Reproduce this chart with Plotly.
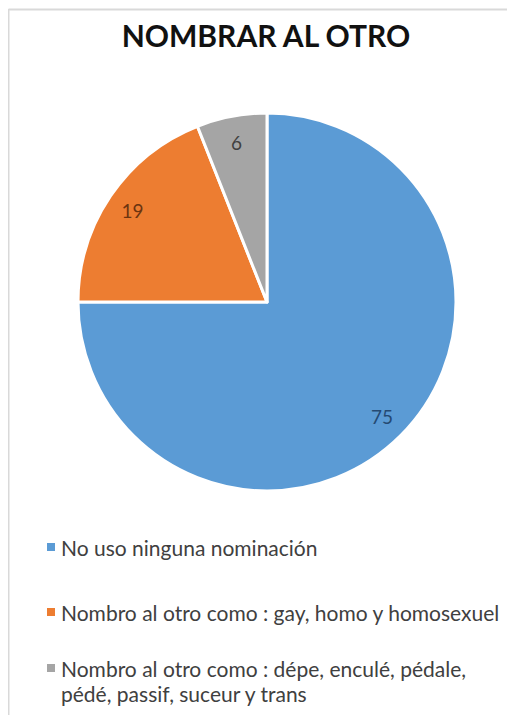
import plotly.graph_objects as go

title = "NOMBRAR AL OTRO"
categories = [
    "No uso ninguna nominación",
    "Nombro al otro como : gay, homo y homosexuel",
    "Nombro al otro como : dépe, enculé, pédale,<br>pédé, passif, suceur y trans",
]
values = [75, 19, 6]
colors = ["#5B9BD5", "#ED7D31", "#A5A5A5"]
label_colors = ["#254A73", "#6B3410", "#404040"]

# page body has an 8px default margin: work in page coordinates and shift
OFF = 8
W, H = 515 - OFF, 715 - OFF
FONT = "Lato"


def px(x):
    return (x - OFF) / W


def py(y):
    return 1 - (y - OFF) / H


pie_domain = dict(x=[px(78), px(456)], y=[py(492), py(112)])

fig = go.Figure()
# main slices
fig.add_trace(go.Pie(
    labels=categories,
    values=values,
    sort=False,
    direction="clockwise",
    rotation=0,
    marker=dict(colors=colors, line=dict(color="white", width=3)),
    textinfo="none",
    domain=pie_domain,
    showlegend=False,
    hoverinfo="label+value",
))
# transparent ring carrying the value labels near the rim
fig.add_trace(go.Pie(
    labels=categories,
    values=values,
    sort=False,
    direction="clockwise",
    rotation=0,
    hole=0.72,
    marker=dict(colors=["rgba(0,0,0,0)"] * len(values), line=dict(width=0)),
    textinfo="value",
    textposition="inside",
    insidetextorientation="horizontal",
    textfont=dict(family=FONT, size=19, color=label_colors),
    domain=pie_domain,
    showlegend=False,
    hoverinfo="skip",
))

# legend drawn as annotations + square markers
legend_y = [547, 612, 668]
LINE_GAP = 25
for cat, col, yy in zip(categories, colors, legend_y):
    fig.add_shape(type="rect", xref="paper", yref="paper",
                  x0=px(47), x1=px(55), y0=py(yy + 4), y1=py(yy - 4),
                  fillcolor=col, line=dict(width=0))
    for k, line in enumerate(cat.split("<br>")):
        fig.add_annotation(x=px(59), y=py(yy + k * LINE_GAP), xref="paper", yref="paper",
                           xanchor="left", yanchor="middle", align="left",
                           text=line, showarrow=False,
                           font=dict(family=FONT, size=21, color="#404040"))

# frame lines
fig.add_shape(type="line", xref="paper", yref="paper",
              x0=px(8.5), x1=1, y0=py(9.5), y1=py(9.5),
              line=dict(color="#D9D9D9", width=2))
fig.add_shape(type="line", xref="paper", yref="paper",
              x0=px(8.5), x1=px(8.5), y0=0, y1=py(9),
              line=dict(color="#D9D9D9", width=2))

fig.update_layout(
    width=W, height=H,
    margin=dict(l=0, r=0, t=0, b=0),
    paper_bgcolor="white",
    plot_bgcolor="white",
    title=dict(text="<b>" + title + "</b>", x=px(266), xanchor="center",
               y=py(36), yanchor="middle",
               font=dict(family=FONT, size=30, color="#111111")),
)

fig.write_html("out.html")
